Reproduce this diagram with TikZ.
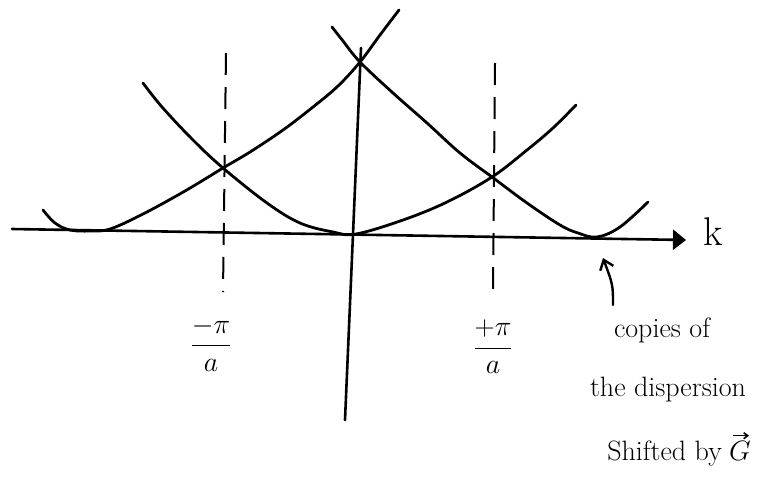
\RequirePackage{fix-cm}
\documentclass[tikz,border=0pt]{standalone}
\usetikzlibrary{arrows.meta}
\begin{document}
\begin{tikzpicture}[x=1pt,y=-1pt,
  curve/.style={line width=2.8pt,line cap=round,line join=round},
  axisline/.style={line width=2.6pt,line cap=round},
  guide/.style={line width=2pt,dash pattern=on 22pt off 12pt},
  lbl/.style={inner sep=0pt,font=\fontsize{28}{32}\selectfont}]
\useasboundingbox (0,0) rectangle (762,480);
% axes
\coordinate (xs) at (12,229);
\coordinate (xe) at (686,240);
\draw[axisline,-{Triangle[length=13pt,width=20pt]}] (xs) -- (xe);
\node[inner sep=0pt,font=\fontsize{40}{44}\selectfont] (k) at (713,232) {k};
\coordinate (ys) at (361,48);
\coordinate (ye) at (345,420);
\draw[axisline] (ys) -- (ye);
% dashed zone boundaries
\coordinate (l1) at (226,53);
\coordinate (l2) at (223,292);
\coordinate (r1) at (495,63);
\coordinate (r2) at (493,292);
\draw[guide] (l1) -- (l2);
\draw[guide] (r1) -- (r2);
% central parabola
\draw[curve] plot[smooth,tension=0.6] coordinates
 {(143,83) (162,107) (193,140) (223,168) (267,203) (300,223) (333,232) (356,234)
  (403,220) (447,202) (492,177) (527,150) (553,128) (576,105)};
% left copy
\draw[curve] plot[smooth,tension=0.6] coordinates
 {(43,210) (55,223) (70,230) (90,231) (110,229) (143,214) (185,191) (223,168)
  (250,152) (283,130) (313,107) (338,86) (360,62) (380,35) (399,10)};
% right copy
\draw[curve] plot[smooth,tension=0.6] coordinates
 {(332,27) (343,41) (360,62) (393,93) (427,123) (460,153) (492,177) (527,203)
  (560,225) (578,233) (597,237) (620,227) (648,202)};
% labels
\node[lbl] (lpi) at (211,344) {$\displaystyle\frac{-\pi}{a}$};
\node[lbl] (rpi) at (493,347) {$\displaystyle\frac{+\pi}{a}$};
\node[lbl] (t1) at (662,330) {copies of};
\node[lbl] (t2) at (668,390) {the dispersion};
\node[lbl,anchor=base east] (t3) at (722,460) {Shifted by};
\node[lbl,anchor=base west] (g) at (729,460) {$G$};
\draw[line width=1.6pt,-{Straight Barb[length=4pt,width=6pt]}]
  ([xshift=-7pt,yshift=5pt]g.north) -- ([xshift=9pt,yshift=5pt]g.north);
\coordinate (arrtip) at (603,258);
\draw[line width=2.4pt,line cap=round,-{Straight Barb[length=9pt,width=14pt]}]
  (613,305) .. controls (613,285) .. (arrtip);
\end{tikzpicture}
\end{document}
